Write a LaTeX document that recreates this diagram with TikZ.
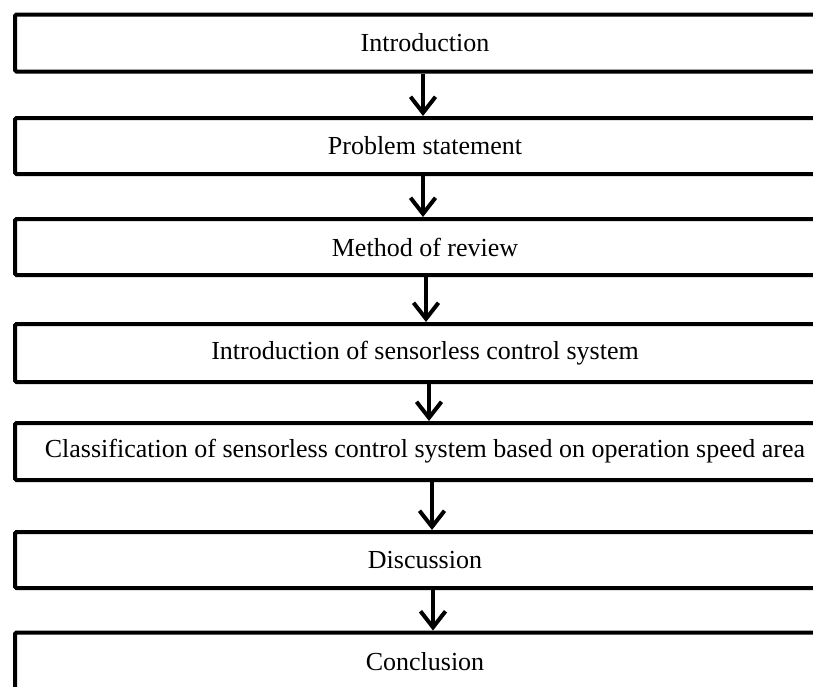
\documentclass[tikz,border=0pt]{standalone}
\usepackage{fontspec}
\setmainfont{Liberation Serif}
\usetikzlibrary{arrows.meta}

\tikzset{
	stage/.style={draw, line width=4pt, rounded corners=1.5pt, minimum width=820pt, inner sep=0pt, anchor=west, font=\fontsize{26}{26}\selectfont},
	flow/.style={line width=4pt, -{Straight Barb[length=16pt, width=25pt]}}
}

\begin{document}
\begin{tikzpicture}[x=1pt, y=-1pt]
				\clip (0, 0) rectangle (813, 686);
				
				\node[stage, minimum height=57] (intro) at (13, 43) {Introduction};
				\node[stage, minimum height=56] (prob) at (13, 146) {Problem statement};
				\node[stage, minimum height=56] (method) at (13, 247) {Method of review};
				\node[stage, minimum height=58] (sensorless) at (13, 353) {Introduction of sensorless control system};
				\node[stage, minimum height=57] (classes) at (13, 451.5) {Classification of sensorless control system based on operation speed area};
				\node[stage, minimum height=56] (discuss) at (13, 560) {Discussion};
				\node[stage, minimum height=58] (concl) at (13, 661.5) {Conclusion};
				
				\draw[flow] ([xshift=-2]intro.south) -- ([xshift=-2]prob.north);
				\draw[flow] ([xshift=-2]prob.south) -- ([xshift=-2]method.north);
				\draw[flow] ([xshift=1]method.south) -- ([xshift=1]sensorless.north);
				\draw[flow] ([xshift=4]sensorless.south) -- ([xshift=4]classes.north);
				\draw[flow] ([xshift=7]classes.south) -- ([xshift=7]discuss.north);
				\draw[flow] ([xshift=8]discuss.south) -- ([xshift=8]concl.north);
			\end{tikzpicture}
\end{document}
